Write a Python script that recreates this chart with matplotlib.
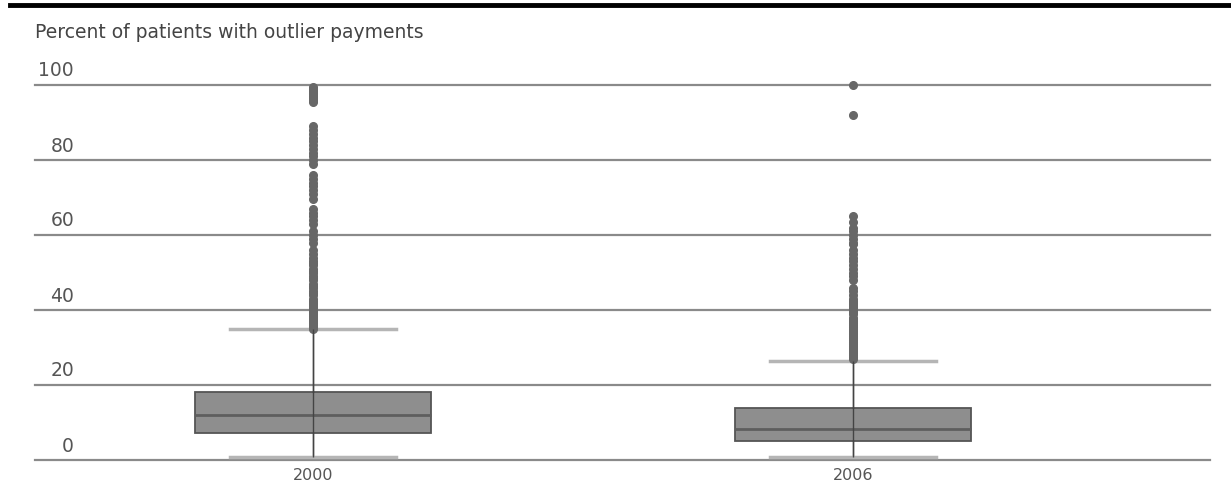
import matplotlib
matplotlib.use("Agg")
import matplotlib.pyplot as plt
from matplotlib.lines import Line2D
import matplotlib.transforms as mtransforms

plt.rcParams['font.family'] = ['DejaVu Sans']

# ---- data ----
categories = ["2000", "2006"]
q1 = [7.2, 5.1]
median = [12.0, 8.3]
q3 = [18.1, 13.9]
whisker_low = [0.9, 0.9]
whisker_high = [34.9, 26.4]
outliers_2000 = [35, 35.5, 36, 36.5, 37, 37.5, 38, 38.5, 39, 39.5, 40, 40.5, 41, 41.5,
                 42, 42.5, 43, 44, 44.5, 45, 46, 46.5, 47, 48, 48.5, 49, 50, 50.5, 51,
                 52, 52.5, 53, 54, 55, 56, 58, 59, 60, 61, 63, 64, 65, 66, 67, 69.5, 71,
                 72, 73, 74, 75, 76, 79, 80, 81, 82, 83, 84, 85, 86, 87, 88, 89,
                 95.5, 96, 96.5, 97, 97.5, 98, 98.5, 99, 99.5]
outliers_2006 = [27, 27.5, 28, 28.5, 29, 29.5, 30, 30.5, 31, 31.5, 32, 32.5, 33, 33.5,
                 34, 34.5, 35, 35.5, 36, 36.5, 37, 37.5, 38, 39, 39.5, 40, 40.5, 41,
                 41.5, 42, 42.5, 43, 44, 45, 46, 48, 49, 50, 51, 52, 53, 54, 55, 56,
                 57.5, 58, 59, 60, 61, 62, 63.5, 65, 92, 100]
outliers = [outliers_2000, outliers_2006]
yticks = [0, 20, 40, 60, 80, 100]
title = "Percent of patients with outlier payments"

# ---- figure ----
W, H = 1231, 504
fig = plt.figure(figsize=(W / 100, H / 100), dpi=100)
ax = fig.add_axes([35 / W, 44 / H, 1175 / W, 375 / H])

positions = [1, 2]
stats = []
for i, c in enumerate(categories):
    stats.append(dict(label=c, q1=q1[i], med=median[i], q3=q3[i],
                      whislo=whisker_low[i], whishi=whisker_high[i],
                      fliers=outliers[i]))

ax.bxp(stats, positions=positions, widths=0.437, capwidths=0.306,
       patch_artist=True, showfliers=True,
       boxprops=dict(facecolor="#8e8e8e", edgecolor="#555555", linewidth=1.3),
       medianprops=dict(color="#5e5e5e", linewidth=2),
       whiskerprops=dict(color="#444444", linewidth=1),
       capprops=dict(color="#b5b5b5", linewidth=2.5),
       flierprops=dict(marker="o", markersize=5.5, markerfacecolor="#676767",
                       markeredgecolor="#676767", linestyle="none"),
       zorder=3)
for b in ax.findobj(Line2D):
    b.set_clip_on(False)
# whisker line through the box
ax.vlines(positions, whisker_low, whisker_high, color="#444444", linewidth=1, zorder=4)

ax.set_xlim(0.485, 2.661)
ax.set_ylim(0, 100)
label_tr = mtransforms.blended_transform_factory(fig.transFigure, ax.transData)
for y in yticks:
    ax.axhline(y, color="#8a8a8a", linewidth=1.6, zorder=1, clip_on=False)
    ax.text(74 / W, y + 1.2, str(y), transform=label_tr, ha="right",
            va="bottom", fontsize=13.5, color="#555555")

ax.set_yticks([])
ax.set_xticks(positions)
ax.set_xticklabels(categories, fontsize=11.5, color="#555555")
ax.tick_params(axis="x", length=0, pad=6)
for s in ax.spines.values():
    s.set_visible(False)

fig.text(35 / W, 1 - 32 / H, title, fontsize=13.5, color="#444444", va="center", ha="left")
fig.add_artist(Line2D([10 / W, 1], [1 - 5 / H, 1 - 5 / H], color="black", linewidth=3.5,
                      transform=fig.transFigure))

fig.savefig("out.png", dpi=100)
